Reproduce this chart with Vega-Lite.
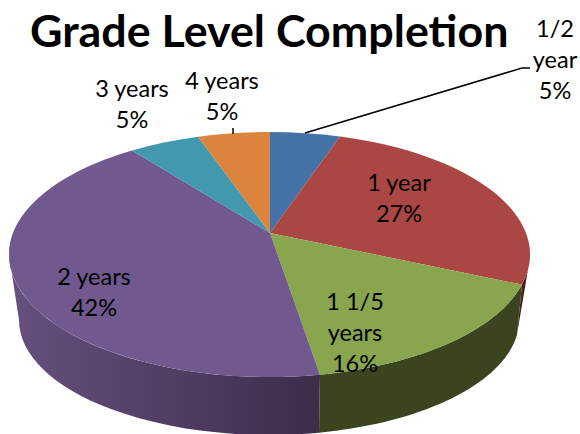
{"$schema":"https://vega.github.io/schema/vega-lite/v6.json","width":580,"height":434,"padding":0,"autosize":"none","background":"white","view":{"stroke":null},
"title":{"text":"Grade Level Completion","font":"Lato","fontWeight":"bold","fontSize":44.8,"color":"#000000","anchor":"start","frame":"group","offset":-92,"dx":30,"baseline":"alphabetic"},
"datasets":{"slices":[
{"slice":"1/2 year","share":5,"order":1,"caption":"1/2\nyear\n5%"},
{"slice":"1 year","share":27,"order":2,"caption":"1 year\n27%"},
{"slice":"1 1/5 years","share":16,"order":3,"caption":"1 1/5\nyears\n16%"},
{"slice":"2 years","share":42,"order":4,"caption":"2 years\n42%"},
{"slice":"3 years","share":5,"order":5,"caption":"3 years\n5%"},
{"slice":"4 years","share":5,"order":6,"caption":"4 years\n5%"}]},
"data":{"name":"slices"},
"layer":[
{"transform":[{"filter":"datum.slice==='1 year'||datum.slice==='1 1/5 years'"}],
 "mark":{"type":"point","filled":true,"size":4,"opacity":1,"strokeWidth":0},
 "encoding":{"shape":{"field":"slice","type":"nominal","legend":null,"scale":{"domain":["1 year","1 1/5 years"],"range":[
 "M232 67.6A260.5 122.5 0 0 0 238 52.5L227 117.5Z",
 "M232 67.6A260.5 122.5 0 0 1 30 157.7L29 215.7A250 115 0 0 0 227 117.5Z"]}},
 "color":{"field":"slice","type":"nominal","legend":null,"scale":{"domain":["1 year","1 1/5 years"],"range":["#4f1e1c","#3a4520"]}}}},
{"transform":[{"filter":"datum.slice==='2 years'"}],
 "mark":{"type":"point","filled":true,"size":4,"opacity":1,"strokeWidth":0,"fill":{"gradient":"linear","x1":0,"y1":0,"x2":1,"y2":0,"stops":[{"offset":0,"color":"#66507f"},{"offset":0.5,"color":"#523e64"},{"offset":1,"color":"#3d2c4a"}]}},
 "encoding":{"shape":{"field":"slice","type":"nominal","legend":null,"scale":{"domain":["2 years"],"range":["M30 157.7A260.5 122.5 0 0 1 -281 37.5L-271 103A250 115 0 0 0 29 215.7Z"]}}}},
{"mark":{"type":"point","filled":true,"size":4,"opacity":1,"strokeWidth":0},
 "encoding":{"shape":{"field":"slice","type":"nominal","legend":null,"scale":{"domain":["1/2 year","1 year","1 1/5 years","2 years","3 years","4 years"],"range":[
 "M-20 16L-20 -85A260.5 122.5 0 0 1 50 -80.5Z",
 "M-20 16L50 -80.5A260.5 122.5 0 0 1 232 67.6Z",
 "M-20 16L232 67.6A260.5 122.5 0 0 1 30 157.7Z",
 "M-20 16L30 157.7A260.5 122.5 0 0 1 -158 -66.5Z",
 "M-20 16L-158 -66.5A260.5 122.5 0 0 1 -92 -80.3Z",
 "M-20 16L-92 -80.3A260.5 122.5 0 0 1 -20 -85Z"]}},
 "color":{"field":"slice","type":"nominal","legend":null,"scale":{"domain":["1/2 year","1 year","1 1/5 years","2 years","3 years","4 years"],"range":["#4572a7","#aa4643","#89a54e","#71588f","#4198af","#db843d"]}}}},
{"transform":[{"filter":"datum.slice==='1/2 year'||datum.slice==='4 years'"}],
 "mark":{"type":"point","filled":false,"size":4,"opacity":1,"stroke":"#000000","strokeWidth":1.5,"fill":null},
 "encoding":{"shape":{"field":"slice","type":"nominal","legend":null,"scale":{"domain":["1/2 year","4 years"],"range":["M15 -84L232 -149L240 -149","M-57 -89L-57 -83"]}}}},
{"mark":{"type":"text","font":"Lato","fontSize":23.5,"color":"#000000","lineBreak":"\n","lineHeight":31,"align":"center","baseline":"middle"},
 "encoding":{"text":{"field":"caption","type":"nominal"},
 "x":{"field":"order","type":"quantitative","axis":null,"scale":{"domain":[1,2,3,4,5,6],"range":[555,399,355,94,132,222]}},
 "y":{"field":"order","type":"quantitative","axis":null,"scale":{"domain":[1,2,3,4,5,6],"range":[30,184,303,278,90,82]}}}}
],
"resolve":{"scale":{"shape":"independent","color":"independent"}}}
